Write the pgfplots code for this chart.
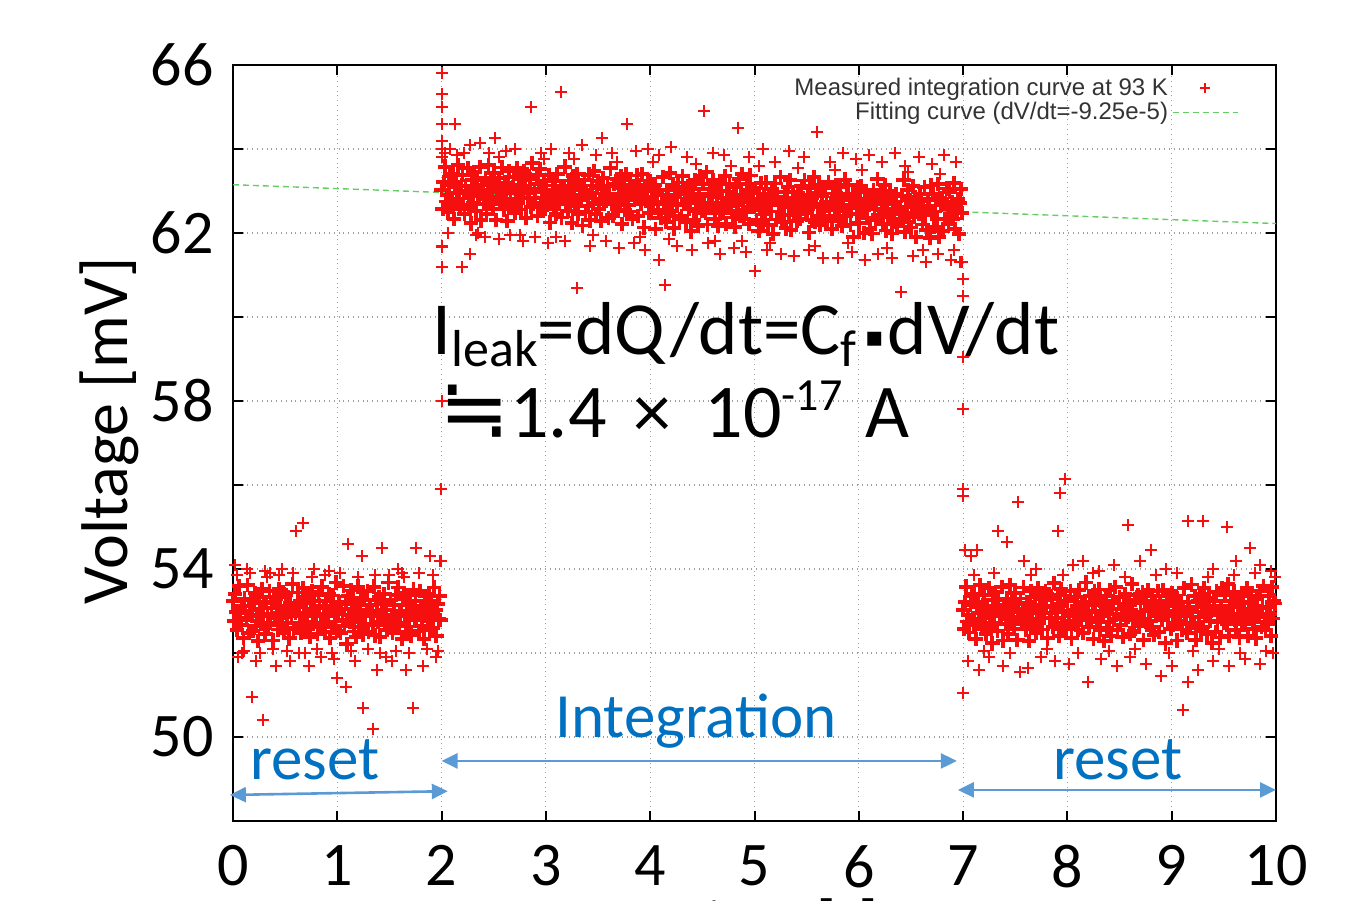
\documentclass[border=0pt]{standalone}
\usepackage{pgfplots}
\pgfplotsset{compat=1.18}
\usepackage{fontspec}
\setmainfont{Carlito}
\newfontfamily\legfont{Liberation Sans}
\newfontfamily\dejavu{DejaVu Sans}
\usetikzlibrary{arrows.meta}
\definecolor{ptred}{RGB}{245,15,15}
\definecolor{fitgreen}{RGB}{100,205,100}
\definecolor{annblue}{RGB}{0,112,192}
\definecolor{arrblue}{RGB}{91,155,213}
\pgfplotsset{
  marklegend/.style={legend image code/.code={\draw[##1,line width=0.7pt,mark size=2.5pt,mark repeat=2,mark phase=2] plot coordinates {(0.13cm,0cm) (0.70cm,0cm) (1.27cm,0cm)};}},
  linelegend/.style={legend image code/.code={\draw[##1] (0.13cm,0cm) -- (1.27cm,0cm);}},
  pts/.style={only marks, mark=+, mark size=3.6pt, color=ptred, line width=1.9pt, mark options={solid, draw=ptred}},
  pto/.style={only marks, mark=+, mark size=3pt, color=ptred, line width=1.0pt, mark options={solid, draw=ptred}},
}
\begin{document}
\begin{tikzpicture}
\begin{axis}[
  scale only axis, width=521.5pt, height=378pt,
  xmin=0, xmax=10, ymin=48, ymax=66,
  xtick={0,1,...,10},
  ytick={48,50,...,66},
  yticklabels={,50,,54,,58,,62,,66},
  tick align=inside, major tick length=5pt,
  tick style={black, line width=1pt},
  axis line style={black, line width=1pt},
  grid=major, grid style={dotted, gray!75, line width=0.6pt},
  /pgf/number format/assume math mode=true,
  ticklabel style={font=\fontsize{31}{31}\selectfont},
  xticklabel style={inner sep=0pt, yshift=-12pt},
  yticklabel style={inner sep=0pt, xshift=-9.5pt},
  clip=false,
  legend plot pos=right,
  legend cell align=right,
  legend style={at={(rel axis cs:0.970,0.994)}, anchor=north east, draw=none, fill=none,
    font=\legfont\fontsize{12}{12}\selectfont, text=black!80, row sep=-2pt,
    nodes={inner sep=2pt}},
]
\coordinate (bbsw) at (rel axis cs:0,0);
\coordinate (bbne) at (rel axis cs:1,1);
\addplot[pts, marklegend] coordinates {
(0.00,53.23)(0.01,52.77)(0.02,53.41)(0.03,52.98)(0.04,52.55)(0.05,53.00)(0.06,53.59)(0.07,52.84)(0.08,52.66)(0.09,53.12)
(0.10,52.36)(0.11,53.30)(0.12,52.94)(0.13,52.79)(0.14,53.62)(0.15,52.47)(0.16,53.01)(0.17,53.25)(0.18,52.88)(0.19,52.53)
(0.20,53.18)(0.21,53.42)(0.22,52.65)(0.23,52.91)(0.24,52.29)(0.25,53.34)(0.26,53.06)(0.27,52.70)(0.28,53.53)(0.29,52.87)
(0.30,53.21)(0.31,52.45)(0.32,53.19)(0.33,52.93)(0.34,52.66)(0.35,53.48)(0.36,52.72)(0.37,53.07)(0.38,52.30)(0.39,53.34)
(0.40,52.84)(0.41,53.29)(0.42,52.90)(0.43,52.56)(0.44,53.53)(0.45,53.11)(0.46,52.67)(0.47,52.82)(0.48,53.45)(0.49,52.48)
(0.50,53.03)(0.51,53.37)(0.52,52.71)(0.53,52.98)(0.54,52.35)(0.55,53.20)(0.56,52.89)(0.57,53.64)(0.58,52.56)(0.59,53.12)
(0.60,52.96)(0.61,52.60)(0.62,53.44)(0.63,53.09)(0.64,52.72)(0.65,52.47)(0.66,53.21)(0.67,53.55)(0.68,52.88)(0.69,52.53)
(0.70,53.18)(0.71,52.92)(0.72,53.35)(0.73,52.61)(0.74,52.39)(0.75,53.04)(0.76,53.46)(0.77,52.70)(0.78,53.23)(0.79,52.87)
(0.80,52.91)(0.81,52.45)(0.82,53.39)(0.83,53.13)(0.84,52.66)(0.85,53.58)(0.86,52.72)(0.87,53.07)(0.88,52.50)(0.89,53.24)
(0.90,52.94)(0.91,52.89)(0.92,53.40)(0.93,52.36)(0.94,53.13)(0.95,52.61)(0.96,53.37)(0.97,53.02)(0.98,52.75)(0.99,53.68)
(1.00,52.53)(1.01,52.97)(1.02,53.21)(1.03,52.48)(1.04,53.05)(1.05,52.80)(1.06,53.59)(1.07,52.64)(1.08,53.16)(1.09,52.22)
(1.10,53.36)(1.11,52.90)(1.12,52.74)(1.13,53.49)(1.14,52.82)(1.15,53.27)(1.16,52.51)(1.17,53.05)(1.18,52.38)(1.19,53.13)
(1.20,53.58)(1.21,52.62)(1.22,52.95)(1.23,53.31)(1.24,52.89)(1.25,52.44)(1.26,53.26)(1.27,52.70)(1.28,53.03)(1.29,53.47)
(1.30,52.51)(1.31,53.15)(1.32,52.89)(1.33,52.93)(1.34,52.66)(1.35,53.58)(1.36,52.42)(1.37,53.27)(1.38,53.00)(1.39,52.74)
(1.40,53.34)(1.41,52.39)(1.42,52.90)(1.43,53.16)(1.44,52.83)(1.45,53.41)(1.46,52.67)(1.47,53.02)(1.48,52.55)(1.49,53.68)
(1.50,52.73)(1.51,53.27)(1.52,52.91)(1.53,52.48)(1.54,53.15)(1.55,52.80)(1.56,53.39)(1.57,52.64)(1.58,53.56)(1.59,52.72)
(1.60,52.96)(1.61,53.00)(1.62,52.34)(1.63,53.29)(1.64,53.42)(1.65,52.87)(1.66,52.51)(1.67,53.15)(1.68,52.98)(1.69,52.63)
(1.70,53.38)(1.71,52.42)(1.72,53.05)(1.73,53.51)(1.74,52.79)(1.75,53.24)(1.76,52.86)(1.77,52.90)(1.78,52.53)(1.79,53.47)
(1.80,53.11)(1.81,52.65)(1.82,53.09)(1.83,52.33)(1.84,53.36)(1.85,52.88)(1.86,53.12)(1.87,52.77)(1.88,53.40)(1.89,52.54)
(1.90,53.24)(1.91,52.99)(1.92,52.60)(1.93,53.56)(1.94,53.03)(1.95,52.41)(1.96,53.17)(1.97,52.82)(1.98,53.35)(1.99,52.78)
};
\addlegendentry{Measured integration curve at 93 K}
\addplot[pto, forget plot] coordinates {
(0.02,54.1)(0.05,51.9)(0.13,54.0)(0.18,50.95)(0.29,50.4)(0.22,51.8)(0.35,53.9)(0.41,51.7)(0.47,54.0)(0.55,51.8)
(0.60,54.9)(0.67,55.1)(0.73,51.7)(0.78,54.0)(0.84,51.9)(0.92,53.95)(1.00,51.4)(1.08,51.2)(1.10,54.6)(1.17,51.8)
(1.24,54.3)(1.25,50.7)(1.34,50.2)(1.38,51.6)(1.43,54.5)(1.52,51.8)(1.58,54.0)(1.66,51.6)(1.73,50.7)(1.75,54.5)
(1.82,51.7)(1.89,54.3)(1.95,51.9)(1.98,54.2)(0.09,52.0)(0.31,53.95)(0.63,52.0)(0.97,51.85)(1.47,51.9)(1.62,53.9)
(0.04,53.85)(0.11,52.05)(0.16,53.9)(0.26,52.0)(0.33,53.8)(0.38,52.1)(0.44,53.85)(0.52,52.05)(0.58,53.9)(0.69,52.0)
(0.76,53.8)(0.81,52.1)(0.88,53.85)(0.95,52.0)(1.03,53.9)(1.13,52.05)(1.20,53.8)(1.29,52.1)(1.36,53.85)(1.41,52.0)
(1.50,53.85)(1.56,52.05)(1.64,53.8)(1.69,52.0)(1.78,53.9)(1.86,52.1)(1.92,53.85)(1.97,52.05)
};
\addplot[pts, forget plot] coordinates {
(2.00,63.03)(2.01,62.57)(2.02,63.21)(2.03,63.58)(2.04,62.75)(2.05,62.90)(2.06,62.49)(2.07,63.14)(2.08,63.36)(2.09,62.82)
(2.10,62.66)(2.11,63.40)(2.12,62.34)(2.13,63.09)(2.14,63.22)(2.15,62.77)(2.16,63.61)(2.17,62.95)(2.18,62.58)(2.19,63.13)
(2.20,63.38)(2.21,62.82)(2.22,62.45)(2.23,63.11)(2.24,62.99)(2.25,63.54)(2.26,62.66)(2.27,63.00)(2.28,62.23)(2.29,63.27)
(2.30,62.71)(2.31,63.45)(2.32,63.09)(2.33,62.53)(2.34,63.26)(2.35,62.88)(2.36,62.92)(2.37,63.57)(2.38,62.30)(2.39,63.14)
(2.40,62.94)(2.41,62.69)(2.42,63.30)(2.43,62.46)(2.44,63.03)(2.45,63.61)(2.46,62.77)(2.47,63.22)(2.48,62.85)(2.49,62.58)
(2.50,63.43)(2.51,63.17)(2.52,62.31)(2.53,62.98)(2.54,62.85)(2.55,63.30)(2.56,62.69)(2.57,63.04)(2.58,63.56)(2.59,62.72)
(2.60,62.56)(2.61,63.20)(2.62,62.94)(2.63,62.29)(2.64,63.12)(2.65,63.47)(2.66,62.81)(2.67,62.65)(2.68,63.08)(2.69,63.33)
(2.70,62.48)(2.71,63.02)(2.72,63.55)(2.73,62.71)(2.74,63.29)(2.75,62.94)(2.76,62.56)(2.77,63.10)(2.78,62.83)(2.79,63.47)
(2.80,63.11)(2.81,62.35)(2.82,63.39)(2.83,62.83)(2.84,62.96)(2.85,63.28)(2.86,62.62)(2.87,63.67)(2.88,62.70)(2.89,63.04)
(2.90,62.84)(2.91,63.39)(2.92,62.40)(2.93,63.16)(2.94,63.53)(2.95,62.61)(2.96,62.97)(2.97,62.72)(2.98,63.25)(2.99,62.58)
(3.00,63.13)(3.01,62.67)(3.02,62.81)(3.03,63.38)(3.04,62.25)(3.05,62.90)(3.06,62.79)(3.07,63.24)(3.08,62.56)(3.09,63.02)
(3.10,62.46)(3.11,63.40)(3.12,62.94)(3.13,62.69)(3.14,63.12)(3.15,62.37)(3.16,62.81)(3.17,63.05)(3.18,63.58)(3.19,62.73)
(3.20,62.88)(3.21,62.52)(3.22,63.25)(3.23,62.71)(3.24,63.09)(3.25,62.24)(3.26,63.36)(3.27,62.90)(3.28,62.63)(3.29,63.17)
(3.30,63.41)(3.31,62.45)(3.32,62.79)(3.33,63.13)(3.34,62.86)(3.35,62.18)(3.36,63.02)(3.37,63.27)(3.38,62.50)(3.39,62.94)
(3.40,62.64)(3.41,63.39)(3.42,62.30)(3.43,62.96)(3.44,63.13)(3.45,62.71)(3.46,63.47)(3.47,62.82)(3.48,62.45)(3.49,63.08)
(3.50,63.23)(3.51,62.57)(3.52,62.81)(3.53,62.28)(3.54,63.05)(3.55,63.30)(3.56,62.69)(3.57,62.94)(3.58,62.76)(3.59,63.12)
(3.60,62.36)(3.61,62.90)(3.62,63.54)(3.63,62.69)(3.64,62.42)(3.65,63.17)(3.66,62.81)(3.67,62.75)(3.68,63.28)(3.69,62.53)
(3.70,63.08)(3.71,62.72)(3.72,63.35)(3.73,62.21)(3.74,62.89)(3.75,63.14)(3.76,62.56)(3.77,63.40)(3.78,62.93)(3.79,62.67)
(3.80,62.51)(3.81,63.25)(3.82,62.99)(3.83,62.33)(3.84,63.06)(3.85,62.78)(3.86,62.82)(3.87,63.37)(3.88,62.40)(3.89,63.14)
(3.90,62.94)(3.91,62.69)(3.92,63.40)(3.93,62.86)(3.94,62.13)(3.95,63.11)(3.96,62.77)(3.97,63.02)(3.98,63.25)(3.99,62.48)
(4.00,63.23)(4.01,62.47)(4.02,62.81)(4.03,62.68)(4.04,63.15)(4.05,62.10)(4.06,62.99)(4.07,62.74)(4.08,62.56)(4.09,63.02)
(4.10,62.36)(4.11,62.90)(4.12,63.34)(4.13,62.69)(4.14,62.72)(4.15,62.27)(4.16,63.01)(4.17,62.85)(4.18,62.48)(4.19,63.43)
(4.20,62.78)(4.21,62.52)(4.22,63.15)(4.23,62.11)(4.24,62.89)(4.25,63.04)(4.26,62.66)(4.27,63.20)(4.28,62.33)(4.29,62.97)
(4.30,62.41)(4.31,63.35)(4.32,62.69)(4.33,62.93)(4.34,62.26)(4.35,62.78)(4.36,63.12)(4.37,62.57)(4.38,62.80)(4.39,62.04)
(4.40,63.04)(4.41,62.89)(4.42,62.30)(4.43,63.26)(4.44,62.53)(4.45,62.71)(4.46,62.17)(4.47,62.92)(4.48,63.35)(4.49,62.68)
};
\addplot[pts, forget plot] coordinates {
(4.50,62.53)(4.51,63.17)(4.52,62.71)(4.53,62.48)(4.54,63.45)(4.55,62.20)(4.56,62.89)(4.57,63.04)(4.58,62.66)(4.59,62.92)
(4.60,63.26)(4.61,62.60)(4.62,62.34)(4.63,62.99)(4.64,62.72)(4.65,62.17)(4.66,63.01)(4.67,62.55)(4.68,63.18)(4.69,62.83)
(4.70,62.48)(4.71,62.72)(4.72,63.35)(4.73,62.21)(4.74,62.99)(4.75,62.64)(4.76,63.16)(4.77,62.80)(4.78,62.53)(4.79,62.37)
(4.80,62.91)(4.81,62.15)(4.82,63.09)(4.83,62.73)(4.84,62.66)(4.85,63.28)(4.86,62.42)(4.87,62.87)(4.88,63.40)(4.89,62.54)
(4.90,62.34)(4.91,62.89)(4.92,62.50)(4.93,63.16)(4.94,62.73)(4.95,62.21)(4.96,63.37)(4.97,62.62)(4.98,63.05)(4.99,62.98)
(5.00,62.63)(5.01,63.07)(5.02,62.31)(5.03,62.78)(5.04,62.05)(5.05,62.80)(5.06,63.19)(5.07,62.54)(5.08,62.26)(5.09,62.92)
(5.10,62.46)(5.11,63.20)(5.12,62.74)(5.13,62.19)(5.14,62.92)(5.15,62.67)(5.16,62.51)(5.17,63.05)(5.18,61.98)(5.19,62.83)
(5.20,63.18)(5.21,62.32)(5.22,62.85)(5.23,62.51)(5.24,62.69)(5.25,63.34)(5.26,62.26)(5.27,62.70)(5.28,62.43)(5.29,62.97)
(5.30,62.11)(5.31,62.75)(5.32,63.09)(5.33,62.43)(5.34,63.26)(5.35,62.08)(5.36,62.62)(5.37,62.97)(5.38,62.50)(5.39,62.84)
(5.40,62.74)(5.41,62.29)(5.42,62.90)(5.43,62.66)(5.44,62.33)(5.45,63.11)(5.46,62.57)(5.47,62.82)(5.48,63.25)(5.49,62.48)
(5.50,62.53)(5.51,62.87)(5.52,62.01)(5.53,63.08)(5.54,62.75)(5.55,62.30)(5.56,62.69)(5.57,63.34)(5.58,62.26)(5.59,62.92)
(5.60,62.96)(5.61,62.40)(5.62,63.14)(5.63,62.19)(5.64,62.62)(5.65,62.87)(5.66,62.51)(5.67,62.35)(5.68,63.08)(5.69,62.73)
(5.70,62.28)(5.71,63.22)(5.72,62.55)(5.73,62.71)(5.74,62.09)(5.75,62.94)(5.76,62.66)(5.77,62.40)(5.78,63.13)(5.79,62.87)
(5.80,62.61)(5.81,62.35)(5.82,63.09)(5.83,62.83)(5.84,62.16)(5.85,62.78)(5.86,62.52)(5.87,63.27)(5.88,62.40)(5.89,62.94)
(5.90,63.14)(5.91,62.59)(5.92,62.20)(5.93,62.66)(5.94,62.93)(5.95,61.91)(5.96,62.87)(5.97,62.72)(5.98,62.45)(5.99,63.08)
(6.00,62.23)(6.01,62.77)(6.02,63.11)(6.03,62.48)(6.04,62.55)(6.05,62.00)(6.06,62.99)(6.07,62.64)(6.08,62.36)(6.09,62.82)
(6.10,62.66)(6.11,62.10)(6.12,62.84)(6.13,61.99)(6.14,63.02)(6.15,62.57)(6.16,62.31)(6.17,62.75)(6.18,63.28)(6.19,62.43)
(6.20,62.38)(6.21,62.92)(6.22,62.55)(6.23,62.21)(6.24,62.69)(6.25,63.14)(6.26,62.06)(6.27,62.70)(6.28,62.43)(6.29,62.87)
(6.30,63.01)(6.31,62.45)(6.32,61.99)(6.33,62.73)(6.34,62.26)(6.35,62.58)(6.36,62.92)(6.37,62.17)(6.38,62.60)(6.39,62.34)
(6.40,62.54)(6.41,62.89)(6.42,62.30)(6.43,63.26)(6.44,62.03)(6.45,62.61)(6.46,62.47)(6.47,63.02)(6.48,62.25)(6.49,62.78)
(6.50,62.13)(6.51,62.67)(6.52,63.11)(6.53,62.38)(6.54,62.85)(6.55,61.90)(6.56,62.59)(6.57,62.74)(6.58,62.46)(6.59,62.92)
(6.60,62.76)(6.61,62.20)(6.62,62.54)(6.63,63.09)(6.64,62.42)(6.65,62.07)(6.66,62.81)(6.67,62.65)(6.68,61.88)(6.69,63.13)
(6.70,62.48)(6.71,62.92)(6.72,62.15)(6.73,62.51)(6.74,62.79)(6.75,62.34)(6.76,63.16)(6.77,61.90)(6.78,62.83)(6.79,62.67)
(6.80,62.81)(6.81,62.05)(6.82,62.69)(6.83,62.33)(6.84,63.06)(6.85,62.58)(6.86,62.22)(6.87,62.97)(6.88,62.40)(6.89,62.74)
(6.90,62.34)(6.91,63.19)(6.92,62.10)(6.93,62.66)(6.94,62.53)(6.95,62.81)(6.96,61.97)(6.97,62.72)(6.98,63.05)(6.99,62.48)
};
\addplot[pto, forget plot] coordinates {
(1.995,54.2)(1.998,55.9)(2.000,58.0)(2.002,61.2)(2.003,61.7)(2.001,64.2)(2.002,64.6)(2.004,65.0)(2.003,65.3)(2.005,65.8)(2.0,64.0)(2.0,63.8)
(2.03,63.9)(2.08,64.0)(2.13,64.6)(2.21,63.9)(2.27,64.1)(2.37,64.15)(2.45,63.9)(2.51,64.25)(2.62,63.95)(2.70,64.0)
(2.86,65.0)(2.95,63.9)(3.05,64.0)(3.14,65.35)(3.22,63.9)(3.35,64.1)(3.48,63.85)(3.54,64.25)(3.63,63.9)(3.78,64.6)
(3.86,63.95)(3.98,64.0)(4.08,63.85)(4.20,64.05)(4.35,63.8)(4.52,64.9)(4.60,63.9)(4.71,63.85)(4.84,64.5)(4.95,63.8)
(5.08,64.0)(5.20,63.7)(5.33,63.95)(5.47,63.8)(5.60,64.4)(5.72,63.7)(5.85,63.9)(5.97,63.75)(6.10,63.85)(6.22,63.7)
(6.35,63.9)(6.44,63.6)(6.58,63.8)(6.70,63.65)(6.82,63.85)(6.93,63.7)
(2.0,61.67)(2.0,61.2)(2.06,62.0)(2.20,61.2)(2.27,61.5)(2.33,61.95)(2.42,61.9)(2.55,61.85)(2.66,61.95)(2.78,61.8)
(2.90,61.9)(3.02,61.75)(3.18,61.8)(3.30,60.7)(3.42,61.7)(3.58,61.8)(3.70,61.65)(3.84,61.75)(3.95,61.6)(4.08,61.35)
(4.14,60.75)(4.26,61.7)(4.40,61.6)(4.55,61.75)(4.67,61.5)(4.80,61.65)(4.92,61.55)(5.00,61.1)(5.12,61.6)(5.25,61.5)
(5.38,61.45)(5.52,61.6)(5.66,61.4)(5.80,61.4)(5.93,61.55)(6.06,61.35)(6.18,61.5)(6.32,61.4)(6.40,60.6)(6.52,61.45)
(6.64,61.3)(6.76,61.5)(6.88,61.35)(6.97,61.3)
(2.15,63.85)(2.35,62.0)(2.55,63.8)(2.75,61.95)(2.98,63.75)(3.10,61.9)(3.27,63.75)(3.45,61.95)(3.68,63.7)(3.90,61.9)
(4.03,63.7)(4.18,61.85)(4.44,63.65)(4.62,61.8)(4.77,63.6)(4.88,61.8)(5.04,63.6)(5.15,61.75)(5.42,63.55)(5.58,61.7)
(5.77,63.5)(5.90,61.75)(6.03,63.5)(6.27,61.65)(6.47,63.45)(6.62,61.6)(6.78,63.4)(6.91,61.6)
(6.99,61.3)(7.00,60.9)(6.995,60.5)(7.00,59.05)(7.00,57.8)(7.00,55.9)(7.00,55.75)(7.00,51.05)
};
\addplot[pts, forget plot] coordinates {
(7.00,53.03)(7.01,52.57)(7.02,53.21)(7.03,53.58)(7.04,52.75)(7.05,52.90)(7.06,52.49)(7.07,53.14)(7.08,53.36)(7.09,52.82)
(7.10,52.66)(7.11,53.40)(7.12,52.34)(7.13,53.09)(7.14,53.22)(7.15,52.77)(7.16,53.61)(7.17,52.95)(7.18,52.58)(7.19,53.13)
(7.20,53.38)(7.21,52.82)(7.22,52.45)(7.23,53.11)(7.24,52.99)(7.25,53.54)(7.26,52.66)(7.27,53.00)(7.28,52.23)(7.29,53.27)
(7.30,52.71)(7.31,53.45)(7.32,53.09)(7.33,52.53)(7.34,53.26)(7.35,52.88)(7.36,52.92)(7.37,53.57)(7.38,52.30)(7.39,53.14)
(7.40,52.94)(7.41,52.69)(7.42,53.30)(7.43,52.46)(7.44,53.03)(7.45,53.61)(7.46,52.77)(7.47,53.22)(7.48,52.85)(7.49,52.58)
(7.50,53.43)(7.51,53.17)(7.52,52.31)(7.53,52.98)(7.54,52.85)(7.55,53.30)(7.56,52.69)(7.57,53.04)(7.58,53.56)(7.59,52.72)
(7.60,52.56)(7.61,53.20)(7.62,52.94)(7.63,52.29)(7.64,53.12)(7.65,53.47)(7.66,52.81)(7.67,52.65)(7.68,53.08)(7.69,53.33)
(7.70,52.48)(7.71,53.02)(7.72,53.55)(7.73,52.71)(7.74,53.29)(7.75,52.94)(7.76,52.56)(7.77,53.10)(7.78,52.83)(7.79,53.47)
(7.80,53.11)(7.81,52.35)(7.82,53.39)(7.83,52.83)(7.84,52.96)(7.85,53.28)(7.86,52.62)(7.87,53.67)(7.88,52.70)(7.89,53.04)
(7.90,52.84)(7.91,53.39)(7.92,52.40)(7.93,53.16)(7.94,53.53)(7.95,52.61)(7.96,52.97)(7.97,52.72)(7.98,53.25)(7.99,52.58)
(8.00,53.23)(8.01,52.77)(8.02,52.91)(8.03,53.48)(8.04,52.35)(8.05,53.00)(8.06,52.89)(8.07,53.34)(8.08,52.66)(8.09,53.12)
(8.10,52.56)(8.11,53.50)(8.12,53.04)(8.13,52.79)(8.14,53.22)(8.15,52.47)(8.16,52.91)(8.17,53.15)(8.18,53.68)(8.19,52.83)
(8.20,52.98)(8.21,52.62)(8.22,53.35)(8.23,52.81)(8.24,53.19)(8.25,52.34)(8.26,53.46)(8.27,53.00)(8.28,52.73)(8.29,53.27)
(8.30,53.51)(8.31,52.55)(8.32,52.89)(8.33,53.23)(8.34,52.96)(8.35,52.28)(8.36,53.12)(8.37,53.37)(8.38,52.60)(8.39,53.04)
(8.40,52.74)(8.41,53.49)(8.42,52.40)(8.43,53.06)(8.44,53.23)(8.45,52.81)(8.46,53.57)(8.47,52.92)(8.48,52.55)(8.49,53.18)
(8.50,53.33)(8.51,52.67)(8.52,52.91)(8.53,52.38)(8.54,53.15)(8.55,53.40)(8.56,52.79)(8.57,53.04)(8.58,52.86)(8.59,53.22)
(8.60,52.46)(8.61,53.00)(8.62,53.64)(8.63,52.79)(8.64,52.52)(8.65,53.27)(8.66,52.91)(8.67,52.85)(8.68,53.38)(8.69,52.63)
(8.70,53.18)(8.71,52.82)(8.72,53.45)(8.73,52.31)(8.74,52.99)(8.75,53.24)(8.76,52.66)(8.77,53.50)(8.78,53.03)(8.79,52.77)
(8.80,52.61)(8.81,53.35)(8.82,53.09)(8.83,52.43)(8.84,53.16)(8.85,52.88)(8.86,52.92)(8.87,53.47)(8.88,52.50)(8.89,53.24)
(8.90,53.04)(8.91,52.79)(8.92,53.50)(8.93,52.96)(8.94,52.23)(8.95,53.21)(8.96,52.87)(8.97,53.12)(8.98,53.35)(8.99,52.58)
(9.00,53.43)(9.01,52.67)(9.02,53.01)(9.03,52.88)(9.04,53.35)(9.05,52.30)(9.06,53.19)(9.07,52.94)(9.08,52.76)(9.09,53.22)
(9.10,52.56)(9.11,53.10)(9.12,53.54)(9.13,52.89)(9.14,52.92)(9.15,52.47)(9.16,53.21)(9.17,53.05)(9.18,52.68)(9.19,53.63)
(9.20,52.98)(9.21,52.72)(9.22,53.35)(9.23,52.31)(9.24,53.09)(9.25,53.24)(9.26,52.86)(9.27,53.40)(9.28,52.53)(9.29,53.17)
(9.30,52.61)(9.31,53.55)(9.32,52.89)(9.33,53.13)(9.34,52.46)(9.35,52.98)(9.36,53.32)(9.37,52.77)(9.38,53.00)(9.39,52.24)
(9.40,53.24)(9.41,53.09)(9.42,52.50)(9.43,53.46)(9.44,52.73)(9.45,52.91)(9.46,52.37)(9.47,53.12)(9.48,53.55)(9.49,52.88)
(9.50,52.73)(9.51,53.37)(9.52,52.91)(9.53,52.68)(9.54,53.65)(9.55,52.40)(9.56,53.09)(9.57,53.24)(9.58,52.86)(9.59,53.12)
(9.60,53.46)(9.61,52.80)(9.62,52.54)(9.63,53.19)(9.64,52.92)(9.65,52.37)(9.66,53.21)(9.67,52.75)(9.68,53.38)(9.69,53.03)
(9.70,52.68)(9.71,52.92)(9.72,53.55)(9.73,52.41)(9.74,53.19)(9.75,52.84)(9.76,53.36)(9.77,53.00)(9.78,52.73)(9.79,52.57)
(9.80,53.11)(9.81,52.35)(9.82,53.29)(9.83,52.93)(9.84,52.86)(9.85,53.48)(9.86,52.62)(9.87,53.07)(9.88,53.60)(9.89,52.74)
(9.90,52.54)(9.91,53.09)(9.92,52.70)(9.93,53.36)(9.94,52.93)(9.95,52.41)(9.96,53.57)(9.97,52.82)(9.98,53.25)(9.99,53.18)
};
\addplot[pto, forget plot] coordinates {
(7.02,54.45)(7.08,54.3)(7.13,54.45)(7.33,54.9)(7.42,54.65)(7.53,55.6)(7.58,54.2)(7.91,54.9)(7.93,55.8)(7.98,56.15)
(7.70,54.0)(8.05,54.1)(8.15,54.2)(8.30,53.95)(8.45,54.1)(8.58,55.05)(8.70,54.2)(8.80,54.45)(8.95,54.0)(9.16,55.15)
(9.30,55.15)(9.40,54.0)(9.53,55.0)(9.62,54.2)(9.75,54.5)(9.85,54.1)(9.95,53.95)
(7.05,51.8)(7.15,51.6)(7.25,51.9)(7.38,51.7)(7.55,51.55)(7.62,51.65)(7.75,51.9)(7.88,51.8)(8.02,51.75)(8.20,51.3)
(8.32,51.85)(8.48,51.7)(8.60,51.9)(8.75,51.75)(8.90,51.45)(9.00,51.7)(9.11,50.65)(9.16,51.3)(9.25,51.6)(9.40,51.8)
(9.55,51.7)(9.70,51.85)(9.85,51.75)(9.97,52.0)
(7.10,53.85)(7.20,52.05)(7.30,53.9)(7.45,52.0)(7.65,53.85)(7.80,52.1)(7.96,53.85)(8.10,52.0)(8.25,53.9)(8.40,52.05)
(8.55,53.8)(8.65,52.1)(8.85,53.85)(8.97,52.0)(9.05,53.9)(9.20,52.05)(9.35,53.8)(9.45,52.1)(9.60,53.85)(9.65,52.0)
(9.80,53.9)(9.90,52.05)(9.99,53.8)
};
\addplot[fitgreen, line width=0.7pt, dash pattern=on 3pt off 2pt, linelegend]
coordinates {(0,63.15) (10,62.225)};
\addlegendentry{Fitting curve (dV/dt=-9.25e-5)}

\node[rotate=90, anchor=base, inner sep=0pt, font=\fontsize{33}{33}\selectfont] at (rel axis cs:-0.1007,0.516) {Voltage [mV]};
\node[anchor=north, inner sep=0pt, font=\fontsize{31}{31}\selectfont] at ([yshift=-38.5pt]rel axis cs:0.5225,0) {Time [s]};

\node[anchor=base west, inner sep=0pt, font=\fontsize{37.5}{37.5}\selectfont] at (axis cs:1.91,59.1)
  {I\raisebox{-6pt}{\fontsize{26}{26}\selectfont leak}=dQ/dt=C\raisebox{-6pt}{\fontsize{26}{26}\selectfont f}\hspace{4pt}\raisebox{4pt}{\dejavu\fontsize{14}{14}\selectfont ▪}\hspace{2pt}dV/dt};
\node[anchor=base west, inner sep=0pt, font=\fontsize{38}{38}\selectfont] at (axis cs:1.98,57.14)
  {{\dejavu\fontsize{42}{42}\selectfont ≒}1.4\hspace{5pt} × \hspace{8pt}10\raisebox{13.5pt}{\fontsize{23}{23}\selectfont -17}\hspace{3pt} A};

\node[anchor=base west, inner sep=0pt, text=annblue, font=\fontsize{31.5}{31.5}\selectfont] at (axis cs:0.163,48.98) {reset};
\node[anchor=base west, inner sep=0pt, text=annblue, font=\fontsize{31.5}{31.5}\selectfont] at (axis cs:3.087,50.0) {Integration};
\node[anchor=base west, inner sep=0pt, text=annblue, font=\fontsize{31.5}{31.5}\selectfont] at (axis cs:7.86,48.98) {reset};

\draw[arrblue, line width=1.3pt, {Triangle[length=8pt,width=7.5pt]}-{Triangle[length=8pt,width=7.5pt]}] (axis cs:-0.03,48.62) -- (axis cs:2.06,48.71);
\draw[arrblue, line width=1.3pt, {Triangle[length=8pt,width=7.5pt]}-{Triangle[length=8pt,width=7.5pt]}] (axis cs:2.0,49.43) -- (axis cs:6.94,49.43);
\draw[arrblue, line width=1.3pt, {Triangle[length=8pt,width=7.5pt]}-{Triangle[length=8pt,width=7.5pt]}] (axis cs:6.95,48.74) -- (axis cs:10.0,48.74);
\end{axis}
\pgfresetboundingbox
\useasboundingbox ([xshift=-116.5pt,yshift=-39.5pt]bbsw) rectangle ([xshift=42pt,yshift=32.5pt]bbne);
\end{tikzpicture}
\end{document}
